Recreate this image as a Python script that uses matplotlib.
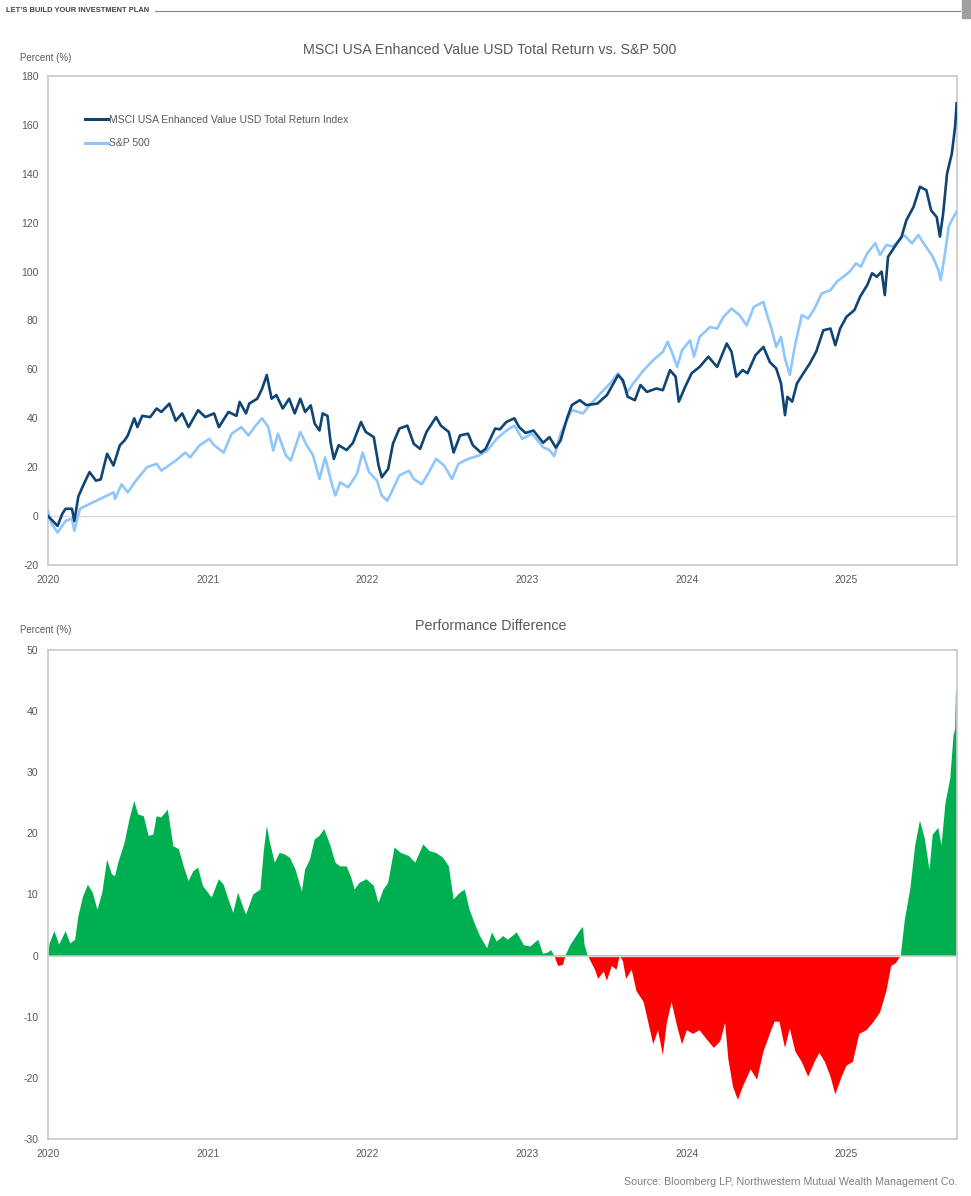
import numpy as np
import matplotlib
matplotlib.use("Agg")
import matplotlib.pyplot as plt
from matplotlib.lines import Line2D

plt.rcParams['font.family'] = ['Liberation Sans', 'DejaVu Sans']
plt.rcParams['axes.unicode_minus'] = False

# dates as fractional years
msci_t = [2020.00, 2020.03, 2020.06, 2020.09, 2020.11, 2020.15, 2020.165, 2020.19, 2020.22, 2020.26,
          2020.30, 2020.33, 2020.37, 2020.41, 2020.45, 2020.48, 2020.50, 2020.54, 2020.56, 2020.59,
          2020.64, 2020.68, 2020.71, 2020.76, 2020.80, 2020.84, 2020.88, 2020.94, 2020.985, 2021.04,
          2021.07, 2021.13, 2021.18, 2021.20, 2021.24, 2021.26, 2021.31, 2021.34, 2021.37, 2021.40,
          2021.43, 2021.47, 2021.51, 2021.545, 2021.58, 2021.61, 2021.645, 2021.67, 2021.70, 2021.72,
          2021.75, 2021.77, 2021.79, 2021.82, 2021.87, 2021.91, 2021.96, 2021.99, 2022.04, 2022.07,
          2022.09, 2022.13, 2022.16, 2022.20, 2022.25, 2022.29, 2022.33, 2022.37, 2022.43, 2022.46,
          2022.51, 2022.54, 2022.58, 2022.63, 2022.66, 2022.71, 2022.74, 2022.80, 2022.83, 2022.87,
          2022.92, 2022.95, 2022.99, 2023.04, 2023.10, 2023.14, 2023.18, 2023.21, 2023.25, 2023.28,
          2023.33, 2023.37, 2023.44, 2023.50, 2023.57, 2023.60, 2023.63, 2023.675, 2023.71, 2023.75,
          2023.81, 2023.85, 2023.895, 2023.93, 2023.95, 2023.99, 2024.03, 2024.08, 2024.135, 2024.19,
          2024.25, 2024.28, 2024.31, 2024.35, 2024.38, 2024.43, 2024.48, 2024.52, 2024.56, 2024.59,
          2024.615, 2024.63, 2024.66, 2024.69, 2024.73, 2024.77, 2024.81, 2024.855, 2024.90, 2024.93,
          2024.96, 2025.00, 2025.05, 2025.085, 2025.13, 2025.16, 2025.19, 2025.22, 2025.24, 2025.26,
          2025.30, 2025.345, 2025.375, 2025.42, 2025.46, 2025.50, 2025.53, 2025.565, 2025.585, 2025.605,
          2025.63, 2025.66, 2025.68, 2025.69]
msci_v = [0, -2, -4, 1, 3, 3, -2, 8, 12.5, 18,
          14.5, 15, 25.5, 20.7, 29, 31, 33, 40, 36.4, 41,
          40.5, 44, 42.6, 46, 39, 42, 36.4, 43.3, 40.5, 42,
          36.4, 42.6, 41, 46.7, 42, 46, 48, 52, 57.7, 48,
          49.5, 44, 48, 42, 48, 42.6, 45.3, 37.8, 35, 42,
          41, 30, 23.4, 29, 27, 30, 38.5, 34.4, 32.3, 20.7,
          15.9, 19.3, 29.6, 35.8, 37, 29.6, 27.5, 34.4, 40.5, 37,
          34.4, 26, 33, 33.7, 29, 26, 27.5, 35.8, 35.5, 38.5,
          40, 36.4, 34, 35, 30, 32.3, 28, 31, 40, 45.4,
          47.4, 45.4, 46, 49.5, 57.7, 55.6, 48.8, 47.4, 53.6, 50.8,
          52.2, 51.5, 59.7, 57, 46.8, 52.9, 58.4, 61, 65.2, 61,
          70.6, 67.2, 57, 59.7, 58.4, 65.8, 69.2, 63, 60.4, 54.3,
          41.3, 48.8, 46.8, 54.3, 58.4, 62.4, 67.2, 76, 76.7, 69.9,
          76.7, 81.5, 84.3, 89.7, 94.5, 99.3, 97.9, 100, 90.4, 106,
          110, 114.3, 121, 126.5, 134.7, 133.3, 125, 122.3, 114.3, 123.6,
          140.2, 148.4, 159.2, 168.8]

spx_t = [2020.00, 2020.02, 2020.06, 2020.11, 2020.15, 2020.165, 2020.20, 2020.28, 2020.37, 2020.41,
         2020.42, 2020.46, 2020.50, 2020.55, 2020.62, 2020.68, 2020.71, 2020.80, 2020.86, 2020.89,
         2020.95, 2021.01, 2021.04, 2021.10, 2021.15, 2021.21, 2021.255, 2021.30, 2021.34, 2021.38,
         2021.41, 2021.44, 2021.49, 2021.52, 2021.58, 2021.62, 2021.66, 2021.70, 2021.735, 2021.78,
         2021.80, 2021.83, 2021.88, 2021.935, 2021.97, 2022.01, 2022.06, 2022.09, 2022.125, 2022.16,
         2022.20, 2022.26, 2022.29, 2022.34, 2022.38, 2022.43, 2022.48, 2022.53, 2022.57, 2022.63,
         2022.70, 2022.75, 2022.81, 2022.87, 2022.92, 2022.97, 2023.03, 2023.10, 2023.14, 2023.17,
         2023.21, 2023.28, 2023.35, 2023.40, 2023.46, 2023.52, 2023.57, 2023.63, 2023.665, 2023.73,
         2023.79, 2023.85, 2023.88, 2023.91, 2023.94, 2023.97, 2024.02, 2024.045, 2024.08, 2024.145,
         2024.19, 2024.23, 2024.28, 2024.33, 2024.375, 2024.42, 2024.48, 2024.50, 2024.53, 2024.56,
         2024.59, 2024.615, 2024.645, 2024.68, 2024.72, 2024.76, 2024.80, 2024.845, 2024.90, 2024.94,
         2024.98, 2025.02, 2025.06, 2025.09, 2025.13, 2025.18, 2025.21, 2025.25, 2025.29, 2025.335,
         2025.36, 2025.41, 2025.45, 2025.49, 2025.54, 2025.575, 2025.59, 2025.617, 2025.64, 2025.66,
         2025.69]
spx_v = [2, -3, -6.7, -2, -1, -6, 3, 5.6, 8.4, 9.7,
         7, 13, 9.7, 14.5, 20, 21.4, 18.6, 22.7, 26, 24,
         29, 31.6, 29, 26, 33.7, 36.4, 33, 37, 40, 36.4,
         26.8, 33.7, 24.8, 22.7, 34.4, 29, 24.8, 15.2, 24, 12.5,
         8.4, 13.8, 11.8, 17.3, 26, 18, 14.5, 8.4, 6.3, 11,
         16.6, 18.6, 15.2, 13, 17.3, 23.4, 20.7, 15.2, 21.4, 23.4,
         24.8, 26.8, 31.6, 35, 37, 31.6, 33.7, 28.2, 27, 24.5,
         33.8, 43.4, 42, 46, 50.2, 54.3, 58.4, 50.8, 54.3, 59.7,
         63.8, 67.2, 71.3, 66.5, 61, 67.8, 71.9, 65.2, 73.3, 77.3,
         76.7, 81.5, 84.9, 82.2, 78, 85.6, 87.6, 82.9, 76.7, 69.2,
         73.3, 64.4, 57.7, 70.6, 82.2, 80.8, 84.9, 91.1, 92.4, 95.9,
         97.9, 100, 103.4, 102, 107.5, 111.6, 106.8, 110.9, 110.3, 113,
         115, 111.6, 115, 110.9, 106.1, 100.7, 96.6, 107.5, 118.4, 121.1,
         124.5]

diff_t = [2020.00, 2020.01, 2020.04, 2020.07, 2020.11, 2020.14, 2020.17, 2020.19, 2020.22, 2020.25,
          2020.28, 2020.31, 2020.34, 2020.37, 2020.40, 2020.42, 2020.44, 2020.48, 2020.51, 2020.54,
          2020.565, 2020.60, 2020.63, 2020.66, 2020.68, 2020.71, 2020.75, 2020.785, 2020.82, 2020.85,
          2020.88, 2020.91, 2020.94, 2020.97, 2021.025, 2021.07, 2021.10, 2021.13, 2021.16, 2021.19,
          2021.22, 2021.24, 2021.285, 2021.33, 2021.35, 2021.37, 2021.39, 2021.42, 2021.45, 2021.48,
          2021.515, 2021.55, 2021.59, 2021.61, 2021.64, 2021.67, 2021.70, 2021.73, 2021.77, 2021.80,
          2021.83, 2021.87, 2021.90, 2021.92, 2021.95, 2021.995, 2022.04, 2022.07, 2022.10, 2022.13,
          2022.17, 2022.21, 2022.26, 2022.30, 2022.35, 2022.39, 2022.43, 2022.475, 2022.51, 2022.54,
          2022.58, 2022.61, 2022.64, 2022.67, 2022.705, 2022.75, 2022.78, 2022.81, 2022.85, 2022.88,
          2022.935, 2022.98, 2023.02, 2023.07, 2023.10, 2023.13, 2023.15, 2023.17, 2023.195, 2023.225,
          2023.24, 2023.27, 2023.30, 2023.33, 2023.35, 2023.36, 2023.38, 2023.425, 2023.445, 2023.48,
          2023.50, 2023.53, 2023.56, 2023.58, 2023.60, 2023.62, 2023.655, 2023.685, 2023.73, 2023.75,
          2023.79, 2023.82, 2023.85, 2023.875, 2023.905, 2023.94, 2023.97, 2024.00, 2024.04, 2024.08,
          2024.125, 2024.17, 2024.21, 2024.24, 2024.26, 2024.29, 2024.32, 2024.35, 2024.40, 2024.44,
          2024.48, 2024.52, 2024.55, 2024.58, 2024.615, 2024.645, 2024.68, 2024.72, 2024.76, 2024.80,
          2024.83, 2024.865, 2024.90, 2024.93, 2024.97, 2025.00, 2025.04, 2025.08, 2025.125, 2025.165,
          2025.21, 2025.25, 2025.28, 2025.31, 2025.34, 2025.365, 2025.40, 2025.43, 2025.46, 2025.49,
          2025.52, 2025.54, 2025.575, 2025.595, 2025.62, 2025.65, 2025.67, 2025.68, 2025.685, 2025.69]
diff_v = [0, 2, 4, 1.8, 4, 2, 2.6, 6.4, 9.7, 11.6,
          10.3, 7.5, 10.3, 15.7, 13.3, 13, 15.2, 18.5, 22.3, 25.3,
          23.1, 22.8, 19.6, 19.8, 22.8, 22.6, 23.9, 17.9, 17.4, 14.6,
          12.2, 13.8, 14.4, 11.4, 9.5, 12.5, 11.6, 9.2, 7, 10.3,
          8.1, 6.7, 10, 10.8, 16.8, 21.2, 18.5, 15.2, 16.8, 16.6,
          16, 14.1, 10.5, 14.1, 15.7, 19, 19.6, 20.7, 17.9, 15.2,
          14.6, 14.6, 12.7, 10.8, 11.9, 12.5, 11.4, 8.6, 10.8, 11.9,
          17.7, 16.8, 16.3, 15.2, 18.2, 17.1, 16.8, 16, 14.6, 9.2,
          10.3, 10.8, 7.5, 5.4, 3.2, 1.2, 3.8, 2.3, 3.2, 2.6,
          3.8, 1.7, 1.5, 2.6, 0.3, 0.5, 0.9, 0, -1.7, -1.5,
          0, 1.7, 2.9, 4.1, 4.7, 1.7, 0, -2.3, -3.8, -2.6,
          -4.1, -1.7, -2.3, 0, -0.9, -3.8, -2.3, -5.8, -7.6, -9.9,
          -14.5, -12.2, -16.3, -11, -7.6, -11.6, -14.5, -12.2, -12.8, -12.2,
          -13.7, -15.1, -14, -11, -16.9, -21.5, -23.6, -21.5, -18.6, -20.3,
          -15.7, -12.8, -10.8, -10.8, -15.1, -11.9, -15.7, -17.4, -19.8, -17.4,
          -15.9, -17.4, -19.8, -22.7, -19.8, -18, -17.4, -12.8, -12.2, -11,
          -9.3, -5.8, -1.7, -1.2, 0, 5.8, 11, 18, 22.1, 19.2,
          14, 19.8, 20.9, 18, 25, 29, 36, 37, 43, 44]

year_ticks = [2020, 2021, 2022, 2023, 2024, 2025]

DARK = '#0f4473'
LIGHT = '#8fc6fb'
GRAY = '#595959'
FRAME = '#c8c8c8'

fig = plt.figure(figsize=(9.71, 11.96), dpi=100)

def style_axes(ax, ylim, yticks):
    ax.set_xlim(2020, 2025.692)
    ax.set_ylim(*ylim)
    ax.set_yticks(yticks)
    ax.set_xticks(year_ticks)
    ax.set_xticklabels([str(y) for y in year_ticks])
    ax.tick_params(length=0, colors=GRAY, labelsize=7.5, pad=7)
    for s in ax.spines.values():
        s.set_color(FRAME)
        s.set_linewidth(1.2)
    ax.axhline(0, color='#d9d9d9', lw=1, zorder=3)

# top chart
ax1 = fig.add_axes([48/971, 1-565/1196, 909/971, 489/1196])
ax1.plot(spx_t, spx_v, color=LIGHT, lw=1.9, zorder=4)
ax1.plot(msci_t, msci_v, color=DARK, lw=1.9, zorder=5)
style_axes(ax1, (-20, 180), range(-20, 181, 20))
fig.text(490/971, 1-50/1196, 'MSCI USA Enhanced Value USD Total Return vs. S&P 500',
         fontsize=10.3, color=GRAY, ha='center', va='center')
handles = [Line2D([], [], color=DARK, lw=2.2), Line2D([], [], color=LIGHT, lw=2.2)]
ax1.legend(handles, ['MSCI USA Enhanced Value USD Total Return Index', 'S&P 500'],
           loc='upper left', bbox_to_anchor=(0.03, 0.94), frameon=False, fontsize=7.5,
           labelcolor=GRAY, handlelength=2.2, handletextpad=0.1, labelspacing=1.3)
fig.text(20/971, 1-58/1196, 'Percent (%)', fontsize=7, color=GRAY, va='center')

# bottom chart
ax2 = fig.add_axes([48/971, 1-1139/1196, 909/971, 489/1196])
d = np.array(diff_v)
t = np.array(diff_t)
ax2.fill_between(t, d, 0, where=d >= 0, interpolate=True, color='#00b050', lw=0)
ax2.fill_between(t, d, 0, where=d <= 0, interpolate=True, color='#ff0000', lw=0)
style_axes(ax2, (-30, 50), range(-30, 51, 10))
fig.text(491/971, 1-626/1196, 'Performance Difference', fontsize=10.3, color=GRAY,
         ha='center', va='center')
fig.text(20/971, 1-630/1196, 'Percent (%)', fontsize=7, color=GRAY, va='center')

# header and source
fig.text(6/971, 1-11/1196, 'LET\u2019S BUILD YOUR INVESTMENT PLAN', fontsize=5.4,
         fontweight='bold', color='#404040', va='center')
fig.add_artist(Line2D([155/971, 960/971], [1-11/1196, 1-11/1196], color='#808080', lw=0.8))
fig.add_artist(plt.Rectangle((962/971, 1-18/1196), 9/971, 18/1196, color='#a0a0a0'))
fig.text(957/971, 1-1182/1196, 'Source: Bloomberg LP, Northwestern Mutual Wealth Management Co.',
         fontsize=7.7, color='#7f7f7f', ha='right', va='center')

fig.savefig('out.png', dpi=100)
